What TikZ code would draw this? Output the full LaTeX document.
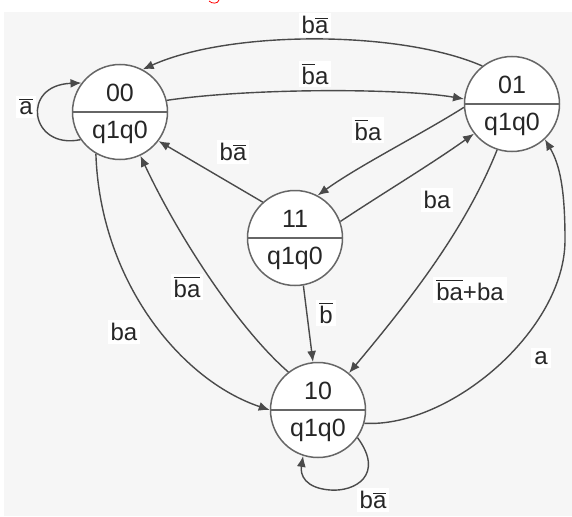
\documentclass[tikz,border=0pt]{standalone}
\usepackage{fontspec}
\setmainfont{Liberation Sans}
\usetikzlibrary{arrows.meta}
\newcommand{\ob}[1]{\vbox{\hrule height 1.3pt\kern1.6pt\hbox{#1}}}
\definecolor{bgc}{HTML}{F6F6F6}
\definecolor{edgec}{HTML}{4A4A4A}
\definecolor{circc}{HTML}{666666}
\begin{document}
\begin{tikzpicture}[x=1pt,y=-1pt,
  state/.style={circle,draw=circc,line width=1.5pt,fill=white,minimum size=95pt,inner sep=0pt},
  stxt/.style={font=\fontsize{25}{25}\selectfont,inner sep=0pt,text=black!85},
  lbl/.style={font=\fontsize{24}{24}\selectfont,fill=white,inner sep=3pt,text=black!85},
  edge/.style={draw=edgec,line width=1.4pt,-{Latex[length=11pt,width=9pt]}},
  loopedge/.style={draw=edgec,line width=1.4pt,-{Latex[length=11pt,width=9pt]}}]
\useasboundingbox (0,0) rectangle (572,516);
\fill[white] (0,0) rectangle (572,516);
\fill[bgc] (4,12) rectangle (572,516);
\draw[red,line width=0.8pt] (219,0) .. controls (218,4) and (212,4) .. (209,1);

% states
\node[state] (s00) at (120,112) {};
\node[state] (s01) at (512,104) {};
\node[state] (s11) at (295,238) {};
\node[state] (s10) at (318,410) {};
\foreach \s/\t in {s00/00,s01/01,s11/11,s10/10}{
  \draw[circc,line width=1.5pt] (\s.west) -- (\s.east);
  \node[stxt] (\s t) at ([yshift=19pt]\s.center) {\t};
  \node[stxt] (\s b) at ([yshift=-20pt]\s.center) {q1q0};
}

% labels
\node[lbl] (l1) at (315,25) {b\ob{a}};
\node[lbl] (l2) at (315,74) {\ob{b}a};
\node[lbl] (l3) at (368,130) {\ob{b}a};
\node[lbl] (l4) at (437,200) {ba};
\node[lbl] (l5) at (233,152) {b\ob{a}};
\node[lbl] (l6) at (187,287) {\ob{b}\ob{a\vphantom{b}}};
\node[lbl] (l7) at (124,332) {ba};
\node[lbl] (l8) at (326,313) {\ob{b}};
\node[lbl] (l9) at (470,290) {\ob{b}\ob{a\vphantom{b}}+ba};
\node[lbl] (l10) at (541,358) {a};
\node[lbl] (l11) at (26,107) {\ob{a}};
\node[lbl] (l12) at (373,500) {b\ob{a}};

% edges
\draw[edge] (s01.128) .. controls (400,30) and (230,30) .. (s00.62);
\draw[edge] (s00.14) .. controls (250,88) and (400,88) .. (s01.174);
\draw[edge] (s01.184) .. controls (420,135) and (360,165) .. (s11.62);
\draw[edge] (s11.20) .. controls (380,195) and (430,165) .. (s01.218);
\draw[edge] (s11.132) -- (s00.-37);
\draw[edge] (s10.128) .. controls (240,330) and (180,240) .. (s00.-65);
\draw[edge] (s00.-120) .. controls (100,280) and (180,380) .. (s10.180);
\draw[edge] (s11.-80) -- (s10.96);
\draw[edge] (s01.-108) .. controls (465,230) and (410,300) .. (s10.50);
\draw[edge] (s10.-16) .. controls (450,428) and (565,330) .. (565,240) .. controls (565,190) and (560,165) .. (s01.-47);
\draw[loopedge] (s00.-145) .. controls (30,150) and (20,85) .. (s00.143);
\draw[loopedge] (s10.-35) .. controls (385,475) and (355,492) .. (330,490) .. controls (305,488) and (300,475) .. (s10.-108);
\end{tikzpicture}
\end{document}
